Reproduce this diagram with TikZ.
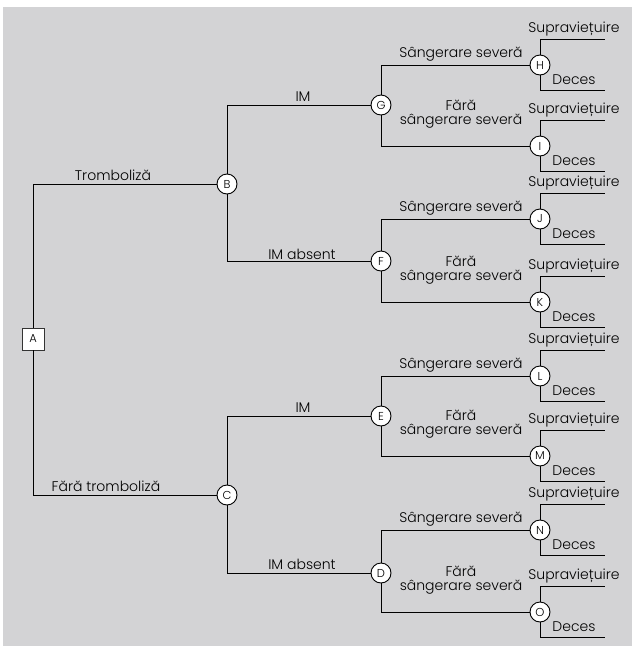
\documentclass[tikz,border=0pt]{standalone}
\usepackage{fontspec}
\setmainfont{Poppins Light}
\begin{document}
\begin{tikzpicture}[x=1pt,y=-1pt,
  chance/.style={circle,draw=black,fill=white,line width=0.9pt,minimum size=20pt,inner sep=0pt,font=\fontsize{11.5}{11.5}\selectfont},
  decision/.style={rectangle,draw=black!80,fill=white,line width=0.9pt,minimum size=22pt,inner sep=0pt,font=\fontsize{11.5}{11.5}\selectfont},
  branch/.style={draw=black,line width=0.9pt},
  lbl/.style={anchor=base,inner sep=0pt,font=\fontsize{14}{14}\selectfont},
  lbltwo/.style={anchor=base,inner sep=0pt,align=center,font=\fontsize{14}{13.5}\selectfont}]
\definecolor{panel}{RGB}{211,211,213}
% page and grey panel
\useasboundingbox (0,0) rectangle (632,646);
\fill[white] (0,0) rectangle (632,646);
\fill[panel] (3,7) rectangle (632,646);

% decision and chance nodes
\node[decision] (A) at (33,339) {A};
\node[chance] (B) at (227,184) {B};
\node[chance] (C) at (227,495) {C};
\node[chance] (G) at (381,105) {G};
\node[chance] (F) at (381,261) {F};
\node[chance] (E) at (381,416) {E};
\node[chance] (D) at (381,573) {D};
\node[chance] (H) at (540,65) {H};
\node[chance] (I) at (540,146) {I};
\node[chance] (J) at (540,219) {J};
\node[chance] (K) at (540,302) {K};
\node[chance] (L) at (540,376) {L};
\node[chance] (M) at (540,456) {M};
\node[chance] (N) at (540,530) {N};
\node[chance] (O) at (540,612) {O};

% first and second level branches
\draw[branch] (A) |- (B);
\draw[branch] (A) |- (C);
\draw[branch] (B) |- (G);
\draw[branch] (B) |- (F);
\draw[branch] (C) |- (E);
\draw[branch] (C) |- (D);
\foreach \p/\u/\d in {G/H/I, F/J/K, E/L/M, D/N/O}{
  \draw[branch] (\p) |- (\u);
  \draw[branch] (\p) |- (\d);
}

% outcome branches
\foreach \n/\y in {H/65, I/146, J/219, K/302, L/376, M/456, N/530, O/612}{
  \coordinate (\n s) at (605,\y-26);
  \coordinate (\n d) at (605,\y+25);
  \draw[branch] (\n) |- (\n s);
  \draw[branch] (\n) |- (\n d);
  \node[lbl] (\n st) at (574,\y-33) {Supraviețuire};
  \node[lbl] (\n dt) at (574,\y+19) {Deces};
}

% branch labels
\node[lbl] (tA) at (113,180) {Tromboliză};
\node[lbl] (tC) at (106,491) {Fără tromboliză};
\node[lbl] (tG) at (303,101) {IM};
\node[lbl] (tF) at (302,259) {IM absent};
\node[lbl] (tE) at (303,412) {IM};
\node[lbl] (tD) at (302,569) {IM absent};
\foreach \n/\y in {H/65, J/219, L/376, N/530}{
  \node[lbl] (b\n) at (461,\y-8) {Sângerare severă};
}
\foreach \n/\y in {I/146, K/302, M/456, O/612}{
  \node[lbltwo] (b\n) at (461,\y-22) {Fără\\sângerare severă};
}
\end{tikzpicture}
\end{document}
